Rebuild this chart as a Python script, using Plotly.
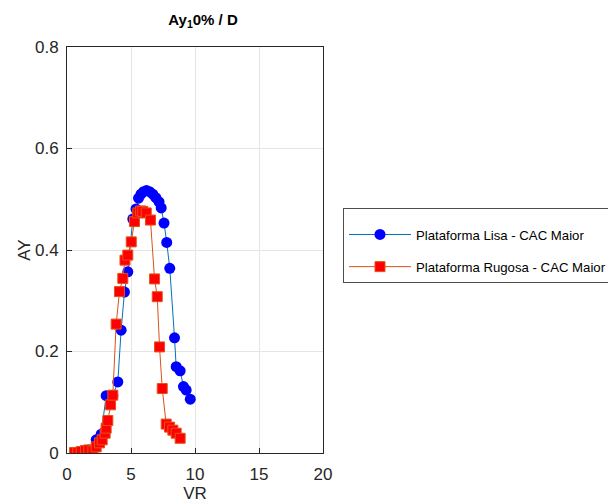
import plotly.graph_objects as go

# Plataforma Lisa - CAC Maior
lisa_vr = [1.70, 2.28, 2.67, 3.06, 3.58, 3.97, 4.23, 4.49, 4.75, 5.14, 5.39, 5.59, 5.78, 5.98,
           6.21, 6.45, 6.70, 6.94, 7.19, 7.36, 7.58, 7.79, 8.03, 8.40, 8.53, 8.84, 9.10, 9.31, 9.63]
lisa_ay = [0.006, 0.026, 0.037, 0.113, 0.113, 0.140, 0.242, 0.317, 0.357, 0.461, 0.481, 0.502, 0.510, 0.515,
           0.517, 0.515, 0.510, 0.503, 0.495, 0.483, 0.453, 0.415, 0.364, 0.227, 0.170, 0.162, 0.131, 0.124, 0.106]

# Plataforma Rugosa - CAC Maior
rug_vr = [0.59, 0.84, 1.11, 1.45, 1.70, 2.02, 2.28, 2.54, 2.75, 2.98, 3.06, 3.19, 3.40, 3.58, 3.84,
          4.10, 4.36, 4.53, 4.75, 5.02, 5.27, 5.53, 5.75, 5.92, 6.19, 6.52, 6.84, 7.05, 7.23, 7.44,
          7.75, 8.01, 8.27, 8.53, 8.84]
rug_ay = [0.001, 0.001, 0.003, 0.005, 0.006, 0.004, 0.012, 0.020, 0.026, 0.039, 0.049, 0.064, 0.095, 0.114, 0.254,
          0.318, 0.344, 0.380, 0.390, 0.416, 0.456, 0.473, 0.477, 0.476, 0.473, 0.459, 0.343, 0.308, 0.209, 0.127,
          0.057, 0.051, 0.045, 0.039, 0.029]

x_ticks = [0, 5, 10, 15, 20]
y_ticks = [0, 0.2, 0.4, 0.6, 0.8]

fig = go.Figure()
fig.add_trace(go.Scatter(
    x=lisa_vr, y=lisa_ay, mode="lines+markers", name="Plataforma Lisa - CAC Maior",
    legendgroup="lisa",
    line=dict(color="#0072BD", width=1),
    marker=dict(symbol="circle", size=11, color="#0000FF", line=dict(width=0)),
))
fig.add_trace(go.Scatter(
    x=rug_vr, y=rug_ay, mode="lines+markers", name="Plataforma Rugosa - CAC Maior",
    legendgroup="rugosa",
    line=dict(color="#D95319", width=1),
    marker=dict(symbol="square", size=10, color="#FF0000", line=dict(width=1, color="#E8501A")),
))

axis_common = dict(
    showline=True, linecolor="#262626", linewidth=1, mirror=True,
    showgrid=True, gridcolor="#E5E5E5", gridwidth=1,
    ticks="inside", ticklen=5, tickcolor="#262626",
    tickfont=dict(size=17, color="#262626"),
    zeroline=False,
)

# page body has an 8px margin, so figure coordinates are shifted by 8px
fig.update_layout(
    width=616, height=502,
    paper_bgcolor="white", plot_bgcolor="white",
    font=dict(family="Liberation Sans, Arial, sans-serif", color="#262626"),
    margin=dict(l=59, r=301, t=39, b=57, autoexpand=False),
    title=dict(text="<b>Ay<sub>1</sub>0% / D</b>", x=195/616, xanchor="center", y=1 - 12/502, yanchor="middle",
               font=dict(size=15, color="#000000")),
    xaxis=dict(range=[0, 20], tickvals=x_ticks, ticktext=[str(v) for v in x_ticks],
               ticklabelstandoff=6,
               title=dict(text="VR", font=dict(size=17), standoff=2), **axis_common),
    yaxis=dict(range=[0, 0.8], tickvals=y_ticks, ticktext=["0", "0.2", "0.4", "0.6", "0.8"],
               ticklabelstandoff=4,
               title=dict(text="AY", font=dict(size=17), standoff=0), **axis_common),
    legend=dict(x=1 + 20/256, xanchor="left", y=(445 - 200) / 406, yanchor="top",
                bordercolor="#4D4D4D", borderwidth=1, bgcolor="white",
                title=dict(text=" ", font=dict(size=8)),
                font=dict(size=13.2, color="#000000"), tracegroupgap=12, itemwidth=62),
    showlegend=True,
)

fig.write_html("out.html")
